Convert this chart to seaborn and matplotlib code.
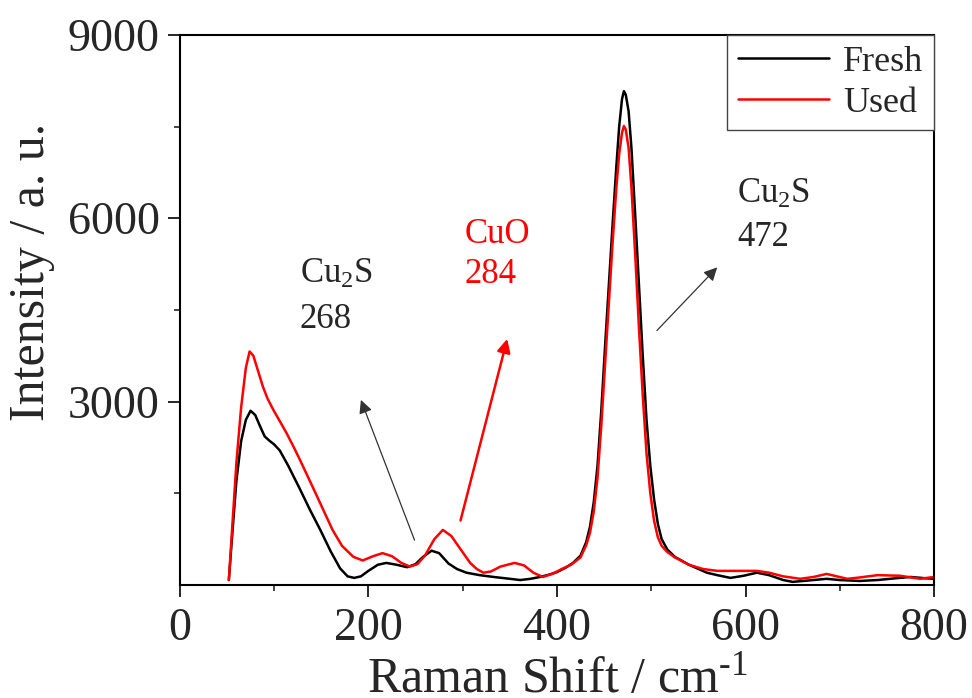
import pandas as pd
import matplotlib
matplotlib.use('Agg')
import matplotlib.pyplot as plt
import seaborn as sns

# Raman spectra (shift in cm-1, intensity in a.u.)
fresh_x = [52, 55, 60, 65, 70, 75, 80, 85, 90, 95, 100, 106, 115, 127, 138, 149, 160, 170, 178, 185,
           192, 200, 210, 219, 230, 241, 250, 258, 267, 275, 285, 294, 304, 318, 333, 350, 361, 372, 382,
           392, 400, 409, 417, 425, 431, 435, 439, 443, 447, 451, 455, 459, 463, 466, 469, 471, 473, 476, 479, 483,
           487, 491, 495, 499, 503, 507, 511, 517, 525, 540, 559, 570, 584, 598, 612, 625, 640, 650, 665,
           686, 700, 721, 740, 760, 775, 790, 800]
fresh_y = [80, 700, 1700, 2350, 2700, 2850, 2780, 2600, 2430, 2360, 2300, 2200, 1950, 1580, 1230, 900, 550, 270, 140, 115,
           140, 230, 330, 360, 330, 290, 340, 460, 560, 520, 350, 260, 200, 160, 130, 100, 80, 100, 130,
           170, 210, 280, 360, 480, 700, 950, 1350, 1950, 2850, 3900, 4900, 5900, 6850, 7500, 7950, 8080, 8020, 7750, 7150, 6050,
           4900, 3750, 2700, 1950, 1400, 1000, 750, 580, 460, 330, 200, 160, 115, 150, 200, 160, 80, 50, 70,
           100, 80, 65, 80, 110, 130, 110, 100]

used_x = [52, 55, 60, 65, 70, 74, 78, 83, 88, 93, 99, 106, 113, 120, 127, 134, 141, 150, 162, 172,
          184, 194, 205, 215, 225, 235, 244, 252, 260, 270, 279, 288, 297, 308, 315, 322, 330, 340, 355,
          365, 375, 385, 395, 405, 415, 425, 431, 435, 439, 443, 447, 451, 455, 459, 463, 466, 469, 471, 473, 476,
          479, 483, 487, 491, 495, 499, 503, 507, 511, 517, 525, 540, 555, 570, 580, 600, 612, 625, 640,
          658, 672, 686, 697, 708, 720, 740, 764, 785, 800]
used_y = [80, 800, 2000, 2900, 3550, 3820, 3750, 3500, 3250, 3050, 2870, 2680, 2490, 2280, 2060, 1830, 1600, 1300, 900, 640,
          460, 400, 470, 520, 470, 360, 300, 340, 480, 750, 900, 800, 600, 360, 260, 200, 220, 300, 360,
          320, 200, 130, 180, 260, 330, 450, 650, 850, 1200, 1750, 2600, 3600, 4600, 5600, 6500, 7050, 7400, 7510, 7450, 7150,
          6500, 5400, 4200, 3100, 2150, 1500, 1050, 780, 640, 540, 450, 330, 260, 230, 230, 230, 230, 200, 140,
          100, 130, 180, 140, 100, 120, 160, 150, 100, 130]

xticks = [0, 200, 400, 600, 800]
yticks = [3000, 6000, 9000]

fresh = pd.DataFrame({'Raman Shift': fresh_x, 'Intensity': fresh_y, 'Sample': 'Fresh'})
used = pd.DataFrame({'Raman Shift': used_x, 'Intensity': used_y, 'Sample': 'Used'})
df = pd.concat([fresh, used], ignore_index=True)

sns.set_style('ticks')
plt.rcParams['font.family'] = ['Liberation Serif', 'DejaVu Serif']
plt.rcParams['mathtext.fontset'] = 'custom'
plt.rcParams['mathtext.rm'] = 'Liberation Serif'
plt.rcParams['mathtext.default'] = 'regular'

fig = plt.figure(figsize=(9.72, 6.98), dpi=100)
ax = fig.add_axes([0.185, 0.162, 0.776, 0.788])

sns.lineplot(data=df, x='Raman Shift', y='Intensity', hue='Sample',
             palette={'Fresh': 'black', 'Used': 'red'}, linewidth=1.8, ax=ax, sort=False)

ax.set_xlim(0, 800)
ax.set_ylim(0, 9000)
ax.set_xticks(xticks)
ax.set_yticks(yticks)
ax.set_xticks([100, 300, 500, 700], minor=True)
ax.set_yticks([1500, 4500, 7500], minor=True)
ax.tick_params(axis='both', which='major', labelsize=33, direction='out', length=8.5, width=1.4)
ax.tick_params(axis='x', which='major', pad=8)
ax.tick_params(axis='y', which='major', pad=6)
ax.tick_params(axis='both', which='minor', direction='out', length=4, width=1.2)
for s in ax.spines.values():
    s.set_linewidth(1.5)
    s.set_color('black')

ax.set_xlabel('Raman Shift / cm$^{\\text{-}1}$', fontsize=36)
ax.set_ylabel('Intensity / a. u.', fontsize=36)
ax.xaxis.label.set_va('baseline')
ax.xaxis.set_label_coords(0.5, -0.195)
ax.yaxis.label.set_va('center')
ax.yaxis.set_label_coords(-0.196, 0.569)

leg = ax.legend(loc='upper right', fontsize=26, frameon=True, fancybox=False, framealpha=1,
                borderaxespad=0, handlelength=2.5, handletextpad=0.4, borderpad=0.3, labelspacing=0.2)
leg.get_frame().set_edgecolor('#444444')
leg.get_frame().set_linewidth(1.0)

# peak labels
ax.text(127, 5080, 'Cu$_2$S', fontsize=25, ha='left', va='center')
ax.text(127, 4340, '268', fontsize=25, ha='left', va='center')
ax.text(302, 5740, 'CuO', fontsize=25, ha='left', va='center', color='red')
ax.text(302, 5080, '284', fontsize=25, ha='left', va='center', color='red')
ax.text(591, 6390, 'Cu$_2$S', fontsize=25, ha='left', va='center')
ax.text(591, 5690, '472', fontsize=25, ha='left', va='center')

ax.annotate('', xy=(191, 3070), xytext=(250, 690),
            arrowprops=dict(arrowstyle='-|>', color='#333333', lw=0.9, mutation_scale=20))
ax.annotate('', xy=(348, 4070), xytext=(297, 1010),
            arrowprops=dict(arrowstyle='-|>', color='red', lw=1.8, mutation_scale=20))
ax.annotate('', xy=(572, 5230), xytext=(504, 4130),
            arrowprops=dict(arrowstyle='-|>', color='#333333', lw=0.9, mutation_scale=20))

plt.savefig('out.png', dpi=100)
